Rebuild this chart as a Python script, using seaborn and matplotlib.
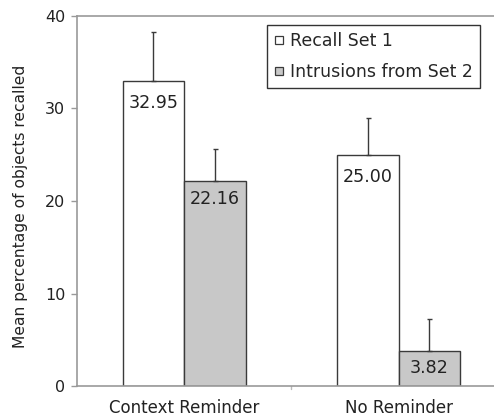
import matplotlib
matplotlib.use("Agg")
import matplotlib.pyplot as plt
import seaborn as sns
import pandas as pd
import numpy as np
from matplotlib.lines import Line2D

conditions = ["Context Reminder", "No Reminder"]
series = ["Recall Set 1", "Intrusions from Set 2"]
recall = [32.95, 25.00]
intrusions = [22.16, 3.82]
recall_err = [5.3, 4.0]
intrusions_err = [3.45, 3.4]
value_labels_recall = ["32.95", "25.00"]
value_labels_intr = ["22.16", "3.82"]

df = pd.DataFrame({
    "condition": conditions * 2,
    "series": [series[0]] * 2 + [series[1]] * 2,
    "value": recall + intrusions,
})

sns.set_style("white")
plt.rcParams["font.family"] = ["DejaVu Sans"]

fig = plt.figure(figsize=(4.94, 4.15), dpi=100)
ax = fig.add_axes([77 / 494, 1 - 386 / 415, 1 - 77 / 494, (386 - 16) / 415])

colors = ["#ffffff", "#c8c8c8"]
sns.barplot(data=df, x="condition", y="value", hue="series", hue_order=series,
            order=conditions, palette=colors, width=0.574, errorbar=None,
            edgecolor="#3a3a3a", linewidth=1.0, ax=ax, legend=False)

errs = [recall_err, intrusions_err]
labels = [value_labels_recall, value_labels_intr]
label_offsets = [2.95, 2.45]
bar_containers = list(ax.containers)
for ci, cont in enumerate(bar_containers):
    for bi, bar in enumerate(cont.patches):
        xc = bar.get_x() + bar.get_width() / 2
        h = bar.get_height()
        ax.errorbar([xc], [h], yerr=[[0], [errs[ci][bi]]], fmt="none",
                    ecolor="#3a3a3a", elinewidth=1.0, capsize=1.8, capthick=1.0, zorder=3)
        ax.text(xc, h - label_offsets[ci], labels[ci][bi], ha="center", va="baseline",
                fontsize=12.6, color="#222222")

ax.set_xlim(-0.5, 1.4445)
ax.set_ylim(0, 40)
ax.set_yticks([0, 10, 20, 30, 40])
ax.set_yticklabels(["0", "10", "20", "30", "40"], fontsize=11.5, color="#222222")
ax.set_xticks([0, 1])
ax.set_xticklabels(conditions, fontsize=12, color="#222222")
ax.tick_params(axis="x", length=0, pad=9)
ax.tick_params(axis="y", length=4.5, width=1, color="#999999", left=True, pad=4)
ax.set_xlabel("")
ax.set_ylabel("Mean percentage of objects recalled", fontsize=11.2, color="#222222")
ax.yaxis.set_label_coords((28 - 77) / 417, (386 - 206.7) / 370)

# boundary tick between groups
ax.plot([0.5, 0.5], [0, -0.35], color="#bbbbbb", lw=1, clip_on=False)

ax.spines["right"].set_visible(False)
for s in ["left", "bottom", "top"]:
    ax.spines[s].set_color("#999999")
    ax.spines[s].set_linewidth(1.2)

handles = [Line2D([], [], marker="s", linestyle="none", markersize=5.8,
                  markerfacecolor=c, markeredgecolor="#3a3a3a", markeredgewidth=0.9)
           for c in colors]
leg = ax.legend(handles, series, loc="upper right",
                bbox_to_anchor=((480 - 77) / 417, (386 - 25) / 370),
                bbox_transform=ax.transAxes, fontsize=12.5, frameon=True, fancybox=False,
                handlelength=0.6, handletextpad=0.35, borderpad=0.4, labelspacing=0.78,
                borderaxespad=0)
leg.get_frame().set_edgecolor("#333333")
leg.get_frame().set_linewidth(1.0)
leg.get_frame().set_alpha(1)

fig.savefig("out.png", dpi=100)
